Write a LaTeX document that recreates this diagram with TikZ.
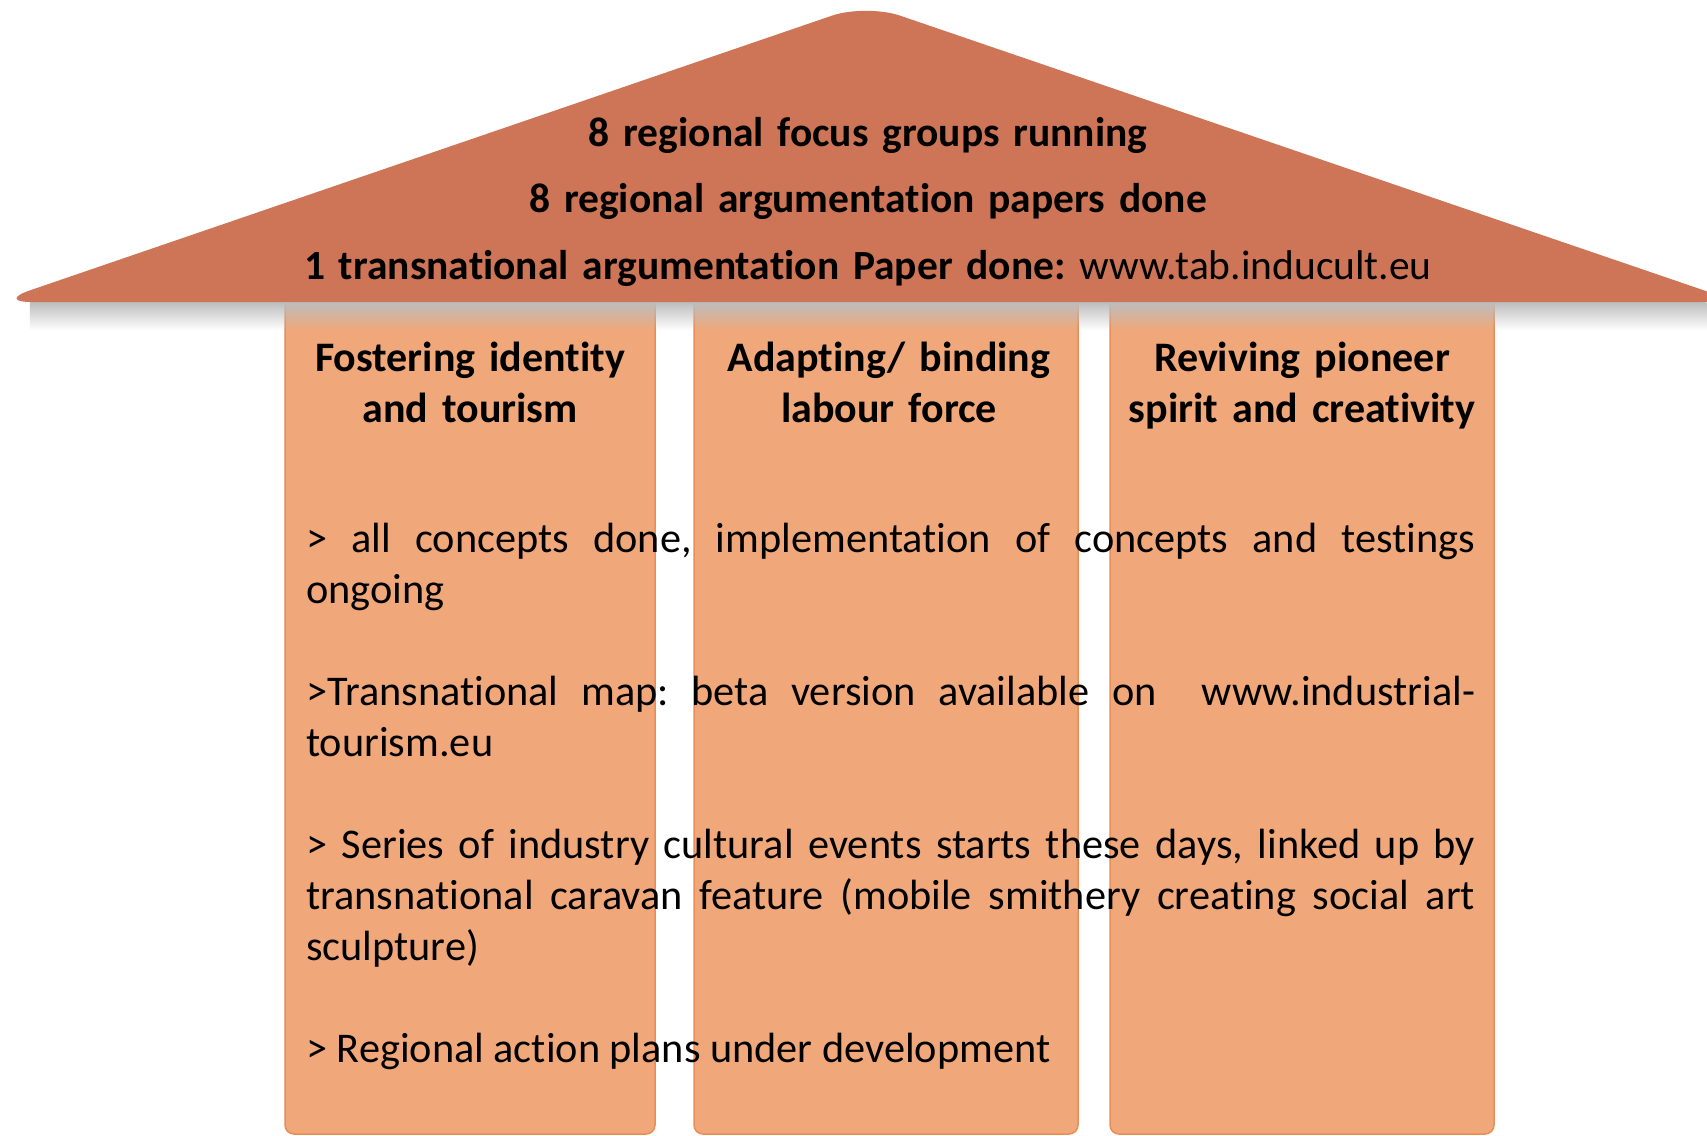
\documentclass[tikz,border=0pt]{standalone}
\usepackage{fontspec}
\setmainfont{Carlito}[Ligatures=NoCommon]
\usetikzlibrary{fadings}
\frenchspacing
\definecolor{roofc}{RGB}{205,117,86}
\definecolor{pillarc}{RGB}{240,168,122}
\definecolor{pillarb}{RGB}{234,140,85}
\pgfdeclarehorizontalshading{roofshadow}{100bp}{color(0bp)=(white); color(6bp)=(black!26); color(100bp)=(black!26)}
\tikzset{
  pillar/.style={fill=pillarc, draw=pillarb, line width=1.5pt},
  bigtext/.style={font=\fontsize{42.3}{51}\selectfont, inner sep=0pt},
  titletext/.style={inner sep=0pt, font=\fontsize{42}{51}\selectfont\bfseries, text width=380pt, align=center, anchor=base},
}
\begin{document}
\begin{tikzpicture}[x=1pt,y=-1pt]
\useasboundingbox (0,0) rectangle (1707,1135);
\fill[white] (0,0) rectangle (1707,1135);
% pillars
\path[pillar, rounded corners=9pt] (285,1134) -- (285,290) -- (655,290) -- (655,1134) -- cycle;
\path[pillar, rounded corners=9pt] (694,1134) -- (694,290) -- (1078,290) -- (1078,1134) -- cycle;
\path[pillar, rounded corners=9pt] (1110,1134) -- (1110,290) -- (1494,290) -- (1494,1134) -- cycle;
% shadow under roof
\path[shading=roofshadow, path fading=south] (30,302) rectangle (1707,330);
% roof
\fill[roofc, rounded corners=36pt] (866,302) -- (-4,302) -- (866,4) -- (1738,302) -- cycle;
% roof text
\node[inner sep=0pt, font=\fontsize{41.5}{66.5}\selectfont\bfseries, text width=1550pt, align=center, anchor=base] (roof) at (868,146)
  {8 regional focus groups running\\
   8 regional argumentation papers done\\
   1 transnational argumentation Paper done: \mdseries www.tab.inducult.eu};
% titles
\node[titletext] (t1) at (470,371) {Fostering identity\\and tourism};
\node[titletext] (t2) at (889,371) {Adapting/ binding\\labour force};
\node[titletext] (t3) at (1302,371) {Reviving pioneer\\spirit and creativity};
% body
\node[bigtext, text width=1169pt, align=justify, anchor=base west] (body) at (306,552)
  {\setlength{\parskip}{51pt}\tolerance=10000\hyphenpenalty=10000
   > all concepts done, implementation of concepts and testings\linebreak ongoing\par
   >Transnational map: beta version available on~ www.industrial-\linebreak tourism.eu\par
   > Series of industry cultural events starts these days, linked up by\linebreak transnational caravan feature (mobile smithery creating social art\linebreak sculpture)\par
   > Regional action plans under development\par};
\end{tikzpicture}
\end{document}
